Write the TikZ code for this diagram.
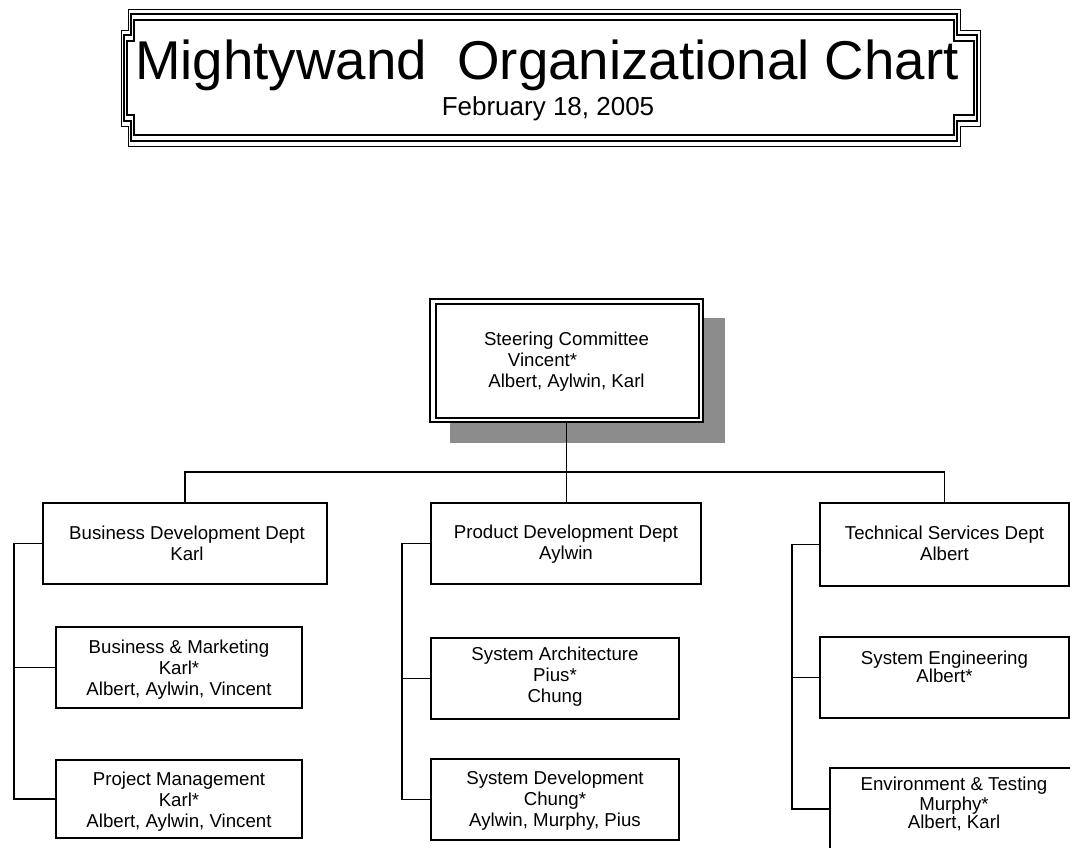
\documentclass[tikz,border=0pt]{standalone}
\usepackage{fontspec}
\setmainfont{Liberation Sans}
\usetikzlibrary{backgrounds}
\newcommand{\boxfont}{\fontsize{14}{15.5}\selectfont}
% a rectangle with inverted square corners, pulled inwards by (#1,#2)
\newcommand{\notchframe}[3]{%
  \draw[#3] ({128+#1},{9+#2}) -- ({960-#1},{9+#2}) -- ({960-#1},{30+#2})
    -- ({980-#1},{30+#2}) -- ({980-#1},{126-#2}) -- ({960-#1},{126-#2})
    -- ({960-#1},{146-#2}) -- ({128+#1},{146-#2}) -- ({128+#1},{126-#2})
    -- ({121+#1},{126-#2}) -- ({121+#1},{30+#2}) -- ({128+#1},{30+#2}) -- cycle;}
\begin{document}
\begin{tikzpicture}[x=0.75pt,y=-0.75pt,
  box/.style={draw, line width=1.1pt, fill=white, inner sep=0pt},
  boxtext/.style={align=center, font=\boxfont, inner sep=0pt, anchor=base},
  wire/.style={line width=1.1pt},
  shadowgray/.style={fill=black!45}]
\useasboundingbox (0,0) rectangle (1070,847);
\clip (0,0) rectangle (1070,847);

% title banner
\notchframe{0}{0}{line width=0.6pt}
\notchframe{3}{5}{line width=0.8pt}
\notchframe{6}{11}{line width=1.4pt}
\node[anchor=base, inner sep=0pt, font=\fontsize{41}{45}\selectfont] (title) at (547,79) {Mightywand\ \ Organizational Chart};
\node[anchor=base, inner sep=0pt, font=\fontsize{19.5}{22}\selectfont] (date) at (548,115) {February 18, 2005};

% steering committee with double border and drop shadow
\node[box, line width=1.6pt, minimum width=204.75pt, minimum height=92.25pt] (sc) at (566.5,360.5) {};
\draw[line width=1.1pt] ([shift={(7,6)}]sc.north west) rectangle ([shift={(-5,-5)}]sc.south east);
\begin{scope}[on background layer]
  \fill[shadowgray] ([shift={(21,20)}]sc.north west) rectangle ([shift={(21,20)}]sc.south east);
\end{scope}

% departments
\node[box, minimum width=213pt, minimum height=60.75pt] (bd) at (185,543.5) {};
\node[box, minimum width=202.5pt, minimum height=60.75pt] (pd) at (566,543.5) {};
\node[box, minimum width=186.75pt, minimum height=62.25pt] (ts) at (944.5,544.5) {};

% groups
\node[box, minimum width=184.5pt, minimum height=60.75pt] (bm) at (179,667.5) {};
\node[box, minimum width=184.5pt, minimum height=58.5pt] (pm) at (179,799) {};
\node[box, minimum width=186pt, minimum height=60.75pt] (sa) at (555,678.5) {};
\node[box, minimum width=186pt, minimum height=60.75pt] (sdv) at (555,799.5) {};
\node[box, minimum width=186.75pt, minimum height=60.75pt] (se) at (944.5,677.5) {};
\node[box, minimum width=186pt, minimum height=61.5pt] (et) at (954,809) {};

% box texts, placed by the baseline of their last line
\node[boxtext] (sctext) at (566.5,387) {Steering Committee\\Vincent*\rule{36pt}{0pt}\\Albert, Aylwin, Karl};
\node[boxtext] (bdtext) at (187,560) {Business Development Dept\\Karl};
\node[boxtext] (pdtext) at (566,559) {Product Development Dept\\Aylwin};
\node[boxtext] (tstext) at (944.5,560) {Technical Services Dept\\Albert};
\node[boxtext] (bmtext) at (179,695) {Business \& Marketing\\Karl*\\Albert, Aylwin, Vincent};
\node[boxtext] (pmtext) at (179,827) {Project Management\\Karl*\\Albert, Aylwin, Vincent};
\node[boxtext] (satext) at (555,702) {System Architecture\\Pius*\\Chung};
\node[boxtext] (sdvtext) at (555,826) {System Development\\Chung*\\Aylwin, Murphy, Pius};
\node[boxtext] (setext) at (944.5,682) {System Engineering\\[-2pt]Albert*};
\node[boxtext] (ettext) at (954,828) {Environment \& Testing\\[-1pt]Murphy*\\[-2pt]Albert, Karl};

% connectors
\coordinate (busY) at (0,472);
\coordinate (railB) at (14,0);
\coordinate (railP) at (402,0);
\coordinate (railT) at (792,0);
\draw[wire] (sc.south) -- (sc.south |- pd.north);
\draw[wire] (bd.north) -- (bd.north |- busY) -- (ts.north |- busY) -- (ts.north);
\draw[wire] (bd.west) -- (bd.west -| railB) -- (railB |- pm.west) -- (pm.west);
\draw[wire] (bm.west) -- (bm.west -| railB);
\draw[wire] (pd.west) -- (pd.west -| railP) -- (railP |- sdv.west) -- (sdv.west);
\draw[wire] (sa.west) -- (sa.west -| railP);
\draw[wire] (ts.west) -- (ts.west -| railT) -- (railT |- et.west) -- (et.west);
\draw[wire] (se.west) -- (se.west -| railT);
\end{tikzpicture}
\end{document}
